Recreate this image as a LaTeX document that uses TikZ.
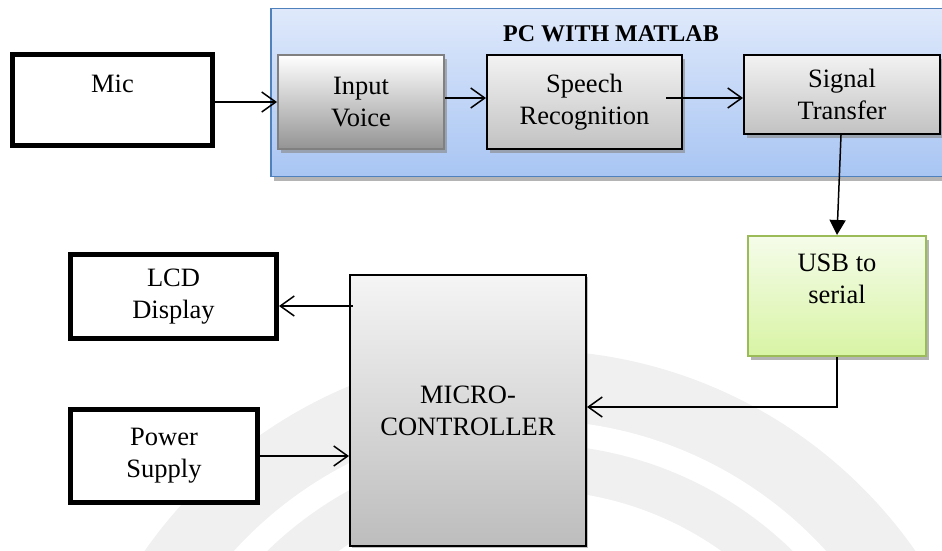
\documentclass[tikz,border=0pt]{standalone}
\usepackage{fontspec}
\setmainfont{Liberation Serif}
\usetikzlibrary{arrows.meta,shadows}

\definecolor{pcTop}{HTML}{DFE9FB}
\definecolor{pcBot}{HTML}{A8C5F3}
\definecolor{pcLine}{HTML}{4F81BD}
\definecolor{usbTop}{HTML}{F5FCEA}
\definecolor{usbBot}{HTML}{D8F4A4}
\definecolor{usbLine}{HTML}{9BBB59}
\definecolor{sealGray}{HTML}{F0F0F0}

\tikzset{
  boxfont/.style={font=\fontsize{26.5}{32}\selectfont, align=center},
  softshadow/.style={drop shadow={shadow xshift=3pt, shadow yshift=-4pt, fill=black!45, opacity=0.65}},
  heavybox/.style={draw=black, line width=5pt, fill=white, inner sep=0pt, boxfont},
  procbox/.style={draw=black, line width=2pt, top color=black!5, bottom color=black!24,
                  inner sep=0pt, boxfont, softshadow},
  inbox/.style={draw=black!50, line width=2pt, top color=white, bottom color=black!42,
                inner sep=0pt, boxfont, softshadow},
  pcbox/.style={draw=pcLine, line width=1.5pt, top color=pcTop, bottom color=pcBot,
                inner sep=0pt, softshadow},
  usbbox/.style={draw=usbLine, line width=2pt, top color=usbTop, bottom color=usbBot,
                 inner sep=0pt, softshadow},
  mcubox/.style={draw=black, line width=2pt, top color=black!4, bottom color=black!26,
                 inner sep=0pt, boxfont, drop shadow={shadow xshift=1.5pt, shadow yshift=-2pt, fill=black!40, opacity=0.6}},
  txt/.style={boxfont, inner sep=0pt},
  flow/.style={line width=1.5pt, -{Straight Barb[length=14pt, width=20pt, line width=1.5pt]}},
  solidflow/.style={line width=1.5pt, -{Triangle[length=15pt, width=16pt]}},
}

\begin{document}
\begin{tikzpicture}[x=1pt, y=-1pt]
  \useasboundingbox (0,0) rectangle (942,550);
  \clip (0,0) rectangle (942,550);

  % faint seal in the page background
  \fill[sealGray] (530,820) circle (470);
  \fill[white]    (530,820) circle (400);
  \fill[sealGray] (530,820) circle (376);
  \fill[white]    (530,820) circle (330);

  % PC frame (runs past the right edge)
  \node[pcbox, minimum width=740pt, minimum height=168pt] (pc) at (641,92.5) {};
  \node[font=\fontsize{24}{28}\selectfont\bfseries, inner sep=0pt] (pctitle) at (611,34) {PC WITH MATLAB};

  % blocks inside the PC
  \node[inbox, minimum width=166pt, minimum height=94pt] (voice) at (361,102) {Input\\Voice};
  \node[procbox, minimum width=195pt, minimum height=94pt] (speech) at (584.5,102) {Speech\\Recognition};
  \node[procbox, minimum width=196pt, minimum height=79pt] (signal) at (842,94.5) {Signal\\Transfer};

  % microphone
  \node[heavybox, minimum width=200pt, minimum height=91pt] (mic) at (112.5,100) {};
  \node[txt] (mictext) at (112.5,83.5) {Mic};

  % USB converter
  \node[usbbox, minimum width=178pt, minimum height=120pt] (usb) at (837,296) {};
  \node[txt] (usbtext) at (837,279) {USB to\\serial};

  % microcontroller and its peripherals
  \node[mcubox, minimum width=236pt, minimum height=271pt] (mcu) at (468,410.5) {MICRO-\\CONTROLLER};
  \node[heavybox, minimum width=206pt, minimum height=84pt] (lcd) at (173.5,296.5) {LCD\\Display};
  \node[heavybox, minimum width=187pt, minimum height=93pt] (power) at (164,456) {Power\\Supply};

  % connectors
  \draw[flow] (mic.east |- voice.west) -- (voice.west);
  \draw[flow] ([yshift=4pt]voice.east) -- ([yshift=4pt]speech.west);
  \coordinate (sr) at ([xshift=-17pt,yshift=4pt]speech.east);
  \draw[flow] (sr) -- (sr -| signal.west);
  \draw[solidflow] ([xshift=-1pt]signal.south) -- (usb.north);
  \coordinate (bend) at ([yshift=-50pt]usb.south);
  \draw[flow] (usb.south) -- (bend) -- (bend -| mcu.east);
  \coordinate (lcdout) at ([xshift=4pt,yshift=-32pt]mcu.north west);
  \draw[flow] (lcdout) -- (lcdout -| lcd.east);
  \draw[flow] (power.east) -- (power.east -| mcu.west);
\end{tikzpicture}
\end{document}
